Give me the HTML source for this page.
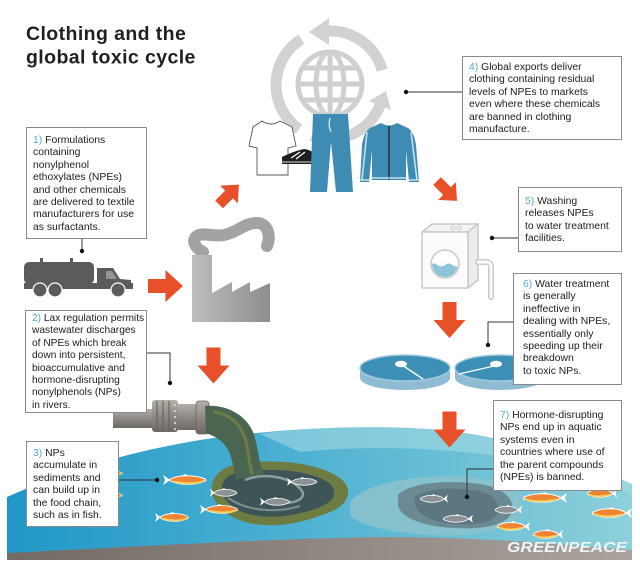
<!DOCTYPE html>
<html><head><meta charset="utf-8">
<style>
html,body{margin:0;padding:0;background:#fff;}
#wrap{position:relative;width:640px;height:567px;overflow:hidden;background:#fff;font-family:"Liberation Sans",Arial,sans-serif;}
svg{position:absolute;left:0;top:0;}
.box{position:absolute;box-sizing:border-box;border:1px solid #8a8a8a;background:#fff;font-size:10.4px;line-height:12.4px;color:#1c1c1c;white-space:nowrap;}
.n{color:#5aa9cc;}
</style></head><body>
<div id="wrap">
<svg width="640" height="567" viewBox="0 0 640 567" xmlns="http://www.w3.org/2000/svg">
<defs>
  <linearGradient id="water" x1="0" y1="0" x2="1" y2="0">
    <stop offset="0" stop-color="#1f97c6"/>
    <stop offset="0.45" stop-color="#4cb0d2"/>
    <stop offset="1" stop-color="#8dd0da"/>
  </linearGradient>
  <linearGradient id="floor" x1="0" y1="0" x2="1" y2="0">
    <stop offset="0" stop-color="#736a66"/>
    <stop offset="1" stop-color="#aba39e"/>
  </linearGradient>
  <linearGradient id="fact" x1="0" y1="0" x2="1" y2="0">
    <stop offset="0" stop-color="#bdbdbd"/>
    <stop offset="1" stop-color="#8e8e8e"/>
  </linearGradient>
  <linearGradient id="pipeg" x1="0" y1="0" x2="0" y2="1">
    <stop offset="0" stop-color="#b4afa9"/>
    <stop offset="0.5" stop-color="#8e8984"/>
    <stop offset="1" stop-color="#6e6964"/>
  </linearGradient>
  <clipPath id="port"><circle cx="445" cy="264" r="13"/></clipPath>
  <g id="fo">
    <path d="M6,6 C12,1 30,0 40,5 C41,6 41,7 40,7 C30,12 12,11 6,6 Z" fill="#ef8433" stroke="#fff" stroke-width="1"/>
    <path d="M10,7.5 C20,10 32,10 39,7" stroke="#f7cf5e" stroke-width="2" fill="none"/>
    <path d="M7,6 L0,1 L2,6 L0,11 Z" fill="#fff"/>
    <path d="M17,2.5 L21,0 L25,2" fill="#fff"/>
  </g>
  <g id="fg">
    <path d="M6,6 C12,1 30,0 40,5 C41,6 41,7 40,7 C30,12 12,11 6,6 Z" fill="#8b9195" stroke="#fff" stroke-width="1"/>
    <path d="M7,6 L0,1 L2,6 L0,11 Z" fill="#fff"/>
    <path d="M17,2.5 L21,0 L25,2" fill="#fff"/>
  </g>
  <path id="arr" d="M0,9 H18 V0 L36,16 L18,32 V23 H0 Z" fill="#e8502a"/>
</defs>

<!-- Title -->
<text x="26" y="40" font-family="Liberation Sans, Arial, sans-serif" font-weight="bold" font-size="19.5" letter-spacing="0.4" fill="#231f20">Clothing and the</text>
<text x="26" y="63.5" font-family="Liberation Sans, Arial, sans-serif" font-weight="bold" font-size="19.5" letter-spacing="0.4" fill="#231f20">global toxic cycle</text>

<!-- Globe ring arrows -->
<g stroke="#d2d2d2" stroke-width="11" fill="none">
  <path d="M382.2,70.1 A54,54 0 0 0 328.1,31"/>
  <path d="M301.4,39.2 A54,54 0 0 0 299,129.2"/>
  <path d="M311.5,135.7 A54,54 0 0 0 380.1,105.2"/>
</g>
<polygon points="309,32 329,18 329,45" fill="#d2d2d2"/>
<polygon points="386,91 391,110 369,101" fill="#d2d2d2"/>
<!-- Globe -->
<g stroke="#cfcfcf" stroke-width="5" fill="none">
  <circle cx="330" cy="84" r="32"/>
  <ellipse cx="330" cy="84" rx="14" ry="32"/>
  <line x1="330" y1="52" x2="330" y2="116"/>
  <line x1="298" y1="84" x2="362" y2="84"/>
  <line x1="303" y1="68" x2="357" y2="68"/>
  <line x1="303" y1="100" x2="357" y2="100"/>
</g>

<!-- T-shirt -->
<path d="M262,121 Q271,127 280,121 L292,127 L296,146 L288,148 L288,175 L257,175 L257,148 L249,146 L253,127 Z" fill="#fff" stroke="#555" stroke-width="0.9"/>
<!-- Shoe -->
<path d="M282,157 Q294,151 304,149 Q313,150 316,157 L316,164 L282,164 Z" fill="#1e1e1e"/>
<path d="M291,158 L300,152 M296,159 L305,152" stroke="#fff" stroke-width="1.2"/>
<path d="M282,162 L316,162" stroke="#ddd" stroke-width="1"/>
<!-- Pants -->
<path d="M313,114 L348,114 L353,192 L336,192 L331,142 L327,192 L310,192 Z" fill="#3e8cb3"/>
<path d="M330,118 Q328,126 331,132" stroke="#bfe0ee" stroke-width="1.5" fill="none"/>
<!-- Jacket -->
<path d="M381,123 Q389,128 397,123 L408,128 Q414,132 416,145 L419,182 L409,182 L406,150 L406,180 L372,180 L372,150 L369,182 L360,182 L362,145 Q364,132 370,128 Z" fill="#3e8cb3"/>
<line x1="389" y1="126" x2="389" y2="180" stroke="#1a1a1a" stroke-width="1.2"/>
<path d="M367,132 L362,180 M411,132 L417,180" stroke="#bfe0ee" stroke-width="1.6" fill="none"/>
<path d="M372,178 L406,178 M360,180 L369,180 M409,180 L419,180" stroke="#bfe0ee" stroke-width="1.5"/>

<!-- Orange arrows -->
<use href="#arr" transform="translate(148,270) scale(0.97,1)"/>
<use href="#arr" transform="translate(229,194.5) rotate(-45) scale(0.78) translate(-18,-16)"/>
<use href="#arr" transform="translate(447,191) rotate(45) scale(0.78) translate(-18,-16)"/>
<use href="#arr" transform="translate(213.5,365.5) rotate(90) translate(-18,-16)"/>
<use href="#arr" transform="translate(449.5,320) rotate(90) translate(-18,-16)"/>

<!-- Truck -->
<g fill="#5b5b5b">
  <rect x="24" y="262" width="70" height="22" rx="5"/>
  <rect x="24" y="283" width="109" height="6"/>
  <path d="M97,268 L113,268 L120,279 L131,280 L131,289 L97,289 Z"/>
  <rect x="40" y="258" width="3" height="5"/>
  <rect x="70" y="258" width="3" height="5"/>
</g>
<path d="M106,271 L112,271 L117,279 L106,279 Z" fill="#fff" opacity="0.35"/>
<g fill="#5b5b5b" stroke="#fff" stroke-width="1.2">
  <circle cx="40" cy="290" r="7"/>
  <circle cx="55" cy="290" r="7"/>
  <circle cx="118" cy="290" r="7"/>
</g>

<!-- Factory -->
<path d="M203,252 C195,248 191,240 197,236 C203,232 213,237 224,235 C236,233 246,222 258,223 C268,224 271,236 267,246" stroke="#a3a3a3" stroke-width="12" fill="none" stroke-linecap="round"/>
<path d="M192,255 L212,255 L212,293 L232,282 L232,292 L250,282 L250,292 L270,283 L270,322 L192,322 Z" fill="url(#fact)"/>

<!-- Washing machine -->
<g stroke="#c9c9c9" stroke-width="1.5" stroke-linejoin="round">
  <polygon points="422,232 432,224 478,224 468,232" fill="#f4f4f4"/>
  <polygon points="468,232 478,224 478,280 468,288" fill="#ececec"/>
  <rect x="422" y="232" width="46" height="56" fill="#fbfbfb"/>
  <circle cx="453" cy="228" r="2" fill="none" stroke-width="1"/>
  <circle cx="459" cy="228" r="2" fill="none" stroke-width="1"/>
</g>
<circle cx="445" cy="264" r="14" fill="#fff" stroke="#c9c9c9" stroke-width="1.5"/>
<path clip-path="url(#port)" d="M430,265 q3.75,-3 7.5,0 t7.5,0 t7.5,0 t7.5,0 L460,280 L430,280 Z" fill="#8ec3d9"/>
<path d="M478,262 L486,262 Q491,262 491,267 L491,297" stroke="#c9c9c9" stroke-width="6" fill="none" stroke-linecap="round"/>
<path d="M478,262 L486,262 Q491,262 491,267 L491,297" stroke="#fafafa" stroke-width="3" fill="none" stroke-linecap="round"/>

<!-- Treatment tanks -->
<path d="M360,368 L360,378 A45,12 0 0 0 450,378 L450,368 Z" fill="#8fbcd3"/>
<ellipse cx="405" cy="368" rx="45" ry="13" fill="#3d8fb6" stroke="#a2c9db" stroke-width="1.5"/>
<ellipse cx="401" cy="364" rx="6" ry="3.2" fill="#fff"/>
<line x1="402" y1="365" x2="423" y2="379" stroke="#fff" stroke-width="1.4"/>
<path d="M455,368 L455,378 A45,12 0 0 0 545,378 L545,368 Z" fill="#8fbcd3"/>
<ellipse cx="500" cy="368" rx="45" ry="13" fill="#3d8fb6" stroke="#a2c9db" stroke-width="1.5"/>
<ellipse cx="496" cy="364" rx="6" ry="3.2" fill="#fff"/>
<line x1="494" y1="366" x2="459" y2="374" stroke="#fff" stroke-width="1.4"/>

<!-- Water -->
<path d="M7,497 C50,478 110,455 200,440 C280,428 370,424 440,430 C520,438 580,462 632,484 L632,560 L7,560 Z" fill="url(#water)"/>
<path d="M300,452 C360,446 430,447 490,455 C550,463 600,480 632,495 L632,484 C580,462 520,438 440,430 C370,424 300,428 260,434 Z" fill="#a8dce4" opacity="0.55"/>
<path d="M7,553 C150,546 300,537 400,537 C500,538 580,546 632,550 L632,560 L7,560 Z" fill="url(#floor)"/>

<!-- Arrow into water (drawn above water) -->
<use href="#arr" transform="translate(449.5,429.5) rotate(90) translate(-18,-16)"/>

<!-- Right pollution blob -->
<path d="M350,502 C365,482 420,474 470,477 C502,480 522,492 522,507 C522,523 496,533 460,535 C420,537 366,530 350,516 Z" fill="#8cc2cb" opacity="0.85"/>
<path d="M398,495 C410,482 450,480 480,484 C505,488 515,500 512,512 C508,524 485,530 455,528 C425,527 400,518 398,505 Z" fill="#6b8a93"/>
<path d="M415,497 C425,488 455,487 478,491 C498,495 502,508 495,517 C485,526 460,526 440,522 C422,518 412,508 415,497 Z" fill="#5c7781"/>

<!-- Pipe -->
<rect x="113" y="409" width="42" height="19" fill="url(#pipeg)"/>
<rect x="152" y="400" width="26" height="32" rx="3" fill="url(#pipeg)"/>
<g stroke="#6a6560" stroke-width="1.2">
  <line x1="157" y1="401" x2="157" y2="431"/>
  <line x1="163" y1="401" x2="163" y2="431"/>
  <line x1="169" y1="401" x2="169" y2="431"/>
</g>
<g fill="#e8e6e3">
  <circle cx="175" cy="405" r="1"/><circle cx="175" cy="411" r="1"/><circle cx="175" cy="417" r="1"/><circle cx="175" cy="423" r="1"/><circle cx="175" cy="429" r="1"/>
</g>
<rect x="178" y="404" width="20" height="26" fill="url(#pipeg)"/>
<rect x="196" y="401" width="13" height="33" rx="3" fill="url(#pipeg)" stroke="#6a6560" stroke-width="0.8"/>

<!-- Stream and left blob -->
<path d="M212,486 C214,470 232,462 255,462 C285,460 320,464 340,478 C355,490 348,505 330,512 C305,522 275,530 245,522 C225,516 210,502 212,486 Z" fill="#6e7b43"/>
<path d="M222,486 C224,474 240,470 258,470 C285,469 312,472 328,482 C340,492 334,502 318,508 C295,516 270,520 248,514 C232,509 220,498 222,486 Z" fill="#3e5558"/>
<path d="M205,406 C226,404 246,415 253,432 C259,448 258,462 264,474 L236,480 C233,464 231,451 223,443 C217,437 211,435 206,433 Z" fill="#4b6650"/>
<path d="M214,412 C232,414 244,428 247,446 C249,458 250,466 252,474" stroke="#6f7d45" stroke-width="3" fill="none"/>
<path d="M245,480 C265,472 292,477 302,491 C307,499 292,506 276,501" stroke="#8aa0a0" stroke-width="2.5" fill="none"/>
<path d="M228,498 C245,510 275,514 300,506" stroke="#7a8f8f" stroke-width="2" fill="none"/>

<!-- Fish -->
<use href="#fo" transform="translate(100,470) scale(0.55)"/>
<use href="#fo" transform="translate(100,492) scale(0.55)"/>
<use href="#fo" transform="translate(163,474) scale(1.05,1)"/>
<use href="#fo" transform="translate(155,512) scale(0.82,0.9)"/>
<use href="#fo" transform="translate(200,504) scale(0.92,0.9)"/>
<use href="#fg" transform="translate(210,488) scale(0.66,0.8)"/>
<use href="#fg" transform="translate(287,477) scale(0.73,0.8)"/>
<use href="#fg" transform="translate(260,497) scale(0.73,0.8)"/>
<use href="#fg" transform="translate(448,494) scale(-0.68,0.8)"/>
<use href="#fg" transform="translate(473,514) scale(-0.73,0.8)"/>
<use href="#fg" transform="translate(522,505) scale(-0.66,0.8)"/>
<use href="#fo" transform="translate(567,492) scale(-1.07,1)"/>
<use href="#fo" transform="translate(617,488) scale(-0.73,0.9)"/>
<use href="#fo" transform="translate(632,507) scale(-0.97,1)"/>
<use href="#fo" transform="translate(530,521) scale(-0.8,0.9)"/>
<use href="#fo" transform="translate(563,529) scale(-0.73,0.9)"/>

<!-- Greenpeace -->
<text x="507" y="552" font-family="Liberation Sans, Arial, sans-serif" font-weight="bold" font-style="italic" font-size="15" fill="#eef6f7" textLength="120" lengthAdjust="spacingAndGlyphs">GREENPEACE</text>

<!-- Connectors -->
<g stroke="#333" stroke-width="1" fill="none">
  <path d="M82,239 V251"/>
  <path d="M406,92 H462"/>
  <path d="M492,238 H518"/>
  <path d="M513,322 H488 V345"/>
  <path d="M147,353 H170 V383"/>
  <path d="M119,480 H157"/>
  <path d="M493,469 H467 V497"/>
</g>
<g fill="#111">
  <circle cx="82" cy="251" r="2.2"/>
  <circle cx="406" cy="92" r="2.2"/>
  <circle cx="492" cy="238" r="2.2"/>
  <circle cx="488" cy="345" r="2.2"/>
  <circle cx="170" cy="383" r="2.2"/>
  <circle cx="157" cy="480" r="2.2"/>
  <circle cx="467" cy="497" r="2.2"/>
</g>
</svg>

<div class="box" style="left:26px;top:127px;width:121px;height:112px;padding:7px 0 0 6px;"><span class="n">1)</span> Formulations<br>containing<br>nonylphenol<br>ethoxylates (NPEs)<br>and other chemicals<br>are delivered to textile<br>manufacturers for use<br>as surfactants.</div>

<div class="box" style="left:25px;top:310px;width:122px;height:103px;padding:2px 0 0 6px;font-size:10.2px;"><span class="n">2)</span> Lax regulation permits<br>wastewater discharges<br>of NPEs which break<br>down into persistent,<br>bioaccumulative and<br>hormone-disrupting<br>nonylphenols (NPs)<br>in rivers.</div>

<div class="box" style="left:26px;top:441px;width:93px;height:86px;padding:6px 0 0 6px;"><span class="n">3)</span> NPs<br>accumulate in<br>sediments and<br>can build up in<br>the food chain,<br>such as in fish.</div>

<div class="box" style="left:462px;top:56px;width:160px;height:84px;padding:5px 0 0 6px;"><span class="n">4)</span> Global exports deliver<br>clothing containing residual<br>levels of NPEs to markets<br>even where these chemicals<br>are banned in clothing<br>manufacture.</div>

<div class="box" style="left:518px;top:187px;width:104px;height:65px;padding:8px 0 0 6px;"><span class="n">5)</span> Washing<br>releases NPEs<br>to water treatment<br>facilities.</div>

<div class="box" style="left:513px;top:273px;width:109px;height:112px;padding:5px 0 0 9px;"><span class="n">6)</span> Water treatment<br>is generally<br>ineffective in<br>dealing with NPEs,<br>essentially only<br>speeding up their<br>breakdown<br>to toxic NPs.</div>

<div class="box" style="left:493px;top:400px;width:129px;height:91px;padding:9px 0 0 6px;"><span class="n">7)</span> Hormone-disrupting<br>NPs end up in aquatic<br>systems even in<br>countries where use of<br>the parent compounds<br>(NPEs) is banned.</div>
</div>
</body></html>
